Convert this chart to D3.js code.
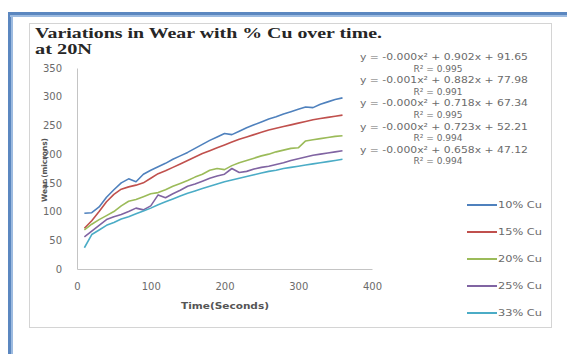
<!DOCTYPE html>
<html>
<head>
<meta charset="utf-8">
<script src="https://cdn.jsdelivr.net/npm/d3@7"></script>
<style>
  body { margin: 0; background: #fff; }
</style>
</head>
<body>
<script>
// =================== Data ======================
// time in seconds
const time = [10, 20, 30, 40, 50, 60, 70, 80, 90, 100,
              110, 120, 130, 140, 150, 160, 170, 180, 190, 200,
              210, 220, 230, 240, 250, 260, 270, 280, 290, 300,
              310, 320, 330, 340, 350, 360];

// wear (microns) for each % Cu
const wear10 = [97, 98, 108, 125, 138, 150, 157, 152, 165, 172,
                178, 184, 191, 197, 203, 210, 217, 224, 230, 236,
                234, 240, 246, 251, 256, 261, 265, 270, 274, 278,
                282, 281, 287, 291, 295, 298];
const wear15 = [71, 84, 100, 117, 130, 139, 143, 146, 150, 158,
                166, 171, 177, 183, 189, 195, 201, 206, 211, 216,
                221, 226, 230, 234, 238, 242, 245, 248, 251, 254,
                257, 260, 262, 264, 266, 268];
const wear20 = [68, 78, 86, 93, 100, 110, 118, 121, 126, 131,
                133, 138, 144, 149, 154, 160, 165, 172, 175, 173,
                180, 185, 189, 193, 197, 200, 204, 207, 210, 211,
                223, 225, 227, 229, 231, 232];
const wear25 = [56, 66, 76, 86, 91, 95, 100, 106, 103, 110,
                129, 124, 131, 137, 144, 148, 153, 158, 162, 165,
                175, 168, 170, 174, 177, 179, 182, 185, 189, 192,
                195, 198, 200, 202, 204, 206];
const wear33 = [37, 60, 68, 76, 81, 87, 91, 96, 101, 106,
                112, 117, 122, 127, 132, 136, 140, 144, 148, 152,
                155, 158, 161, 164, 167, 170, 172, 175, 177, 179,
                181, 183, 185, 187, 189, 191];

const seriesNames = ["10% Cu", "15% Cu", "20% Cu", "25% Cu", "33% Cu"];
const equations = ["y = -0.000x² + 0.902x + 91.65",
                   "y = -0.001x² + 0.882x + 77.98",
                   "y = -0.000x² + 0.718x + 67.34",
                   "y = -0.000x² + 0.723x + 52.21",
                   "y = -0.000x² + 0.658x + 47.12"];
const rSquared = ["R² = 0.995", "R² = 0.991", "R² = 0.995", "R² = 0.994", "R² = 0.994"];

const xTicks = [0, 100, 200, 300, 400];
const yTicks = [0, 50, 100, 150, 200, 250, 300, 350];

// =================== Chart Prep ======================
var colors = ["#4f81bd", "#c0504d", "#9bbb59", "#8064a2", "#4bacc6"];
var allSeries = [wear10, wear15, wear20, wear25, wear33];

var width = 567, height = 354;

var x = d3.scaleLinear().domain([0, 400]).range([77, 372]);
var y = d3.scaleLinear().domain([0, 350]).range([269, 68]);

var svg = d3.select("body").append("svg")
    .attr("width", width)
    .attr("height", height)
    .style("font-family", "'DejaVu Sans', sans-serif");

// outer blue frame (top and left edges)
svg.append("rect").attr("x", 8).attr("y", 12).attr("width", 559).attr("height", 5).attr("fill", "#5b87c0");
svg.append("rect").attr("x", 8).attr("y", 12).attr("width", 5).attr("height", 342).attr("fill", "#5b87c0");
svg.append("rect").attr("x", 10).attr("y", 15).attr("width", 557).attr("height", 2).attr("fill", "#9dbbe0");
svg.append("rect").attr("x", 11).attr("y", 15).attr("width", 2).attr("height", 339).attr("fill", "#9dbbe0");

// chart area border
svg.append("rect")
    .attr("x", 29.5).attr("y", 23.5)
    .attr("width", 522).attr("height", 304)
    .attr("fill", "#fff")
    .attr("stroke", "#d4d4d4");

// title
svg.append("text")
    .attr("x", 35).attr("y", 38)
    .attr("textLength", 347).attr("lengthAdjust", "spacingAndGlyphs")
    .style("font-family", "'Liberation Serif', serif")
    .style("font-weight", "bold")
    .style("font-size", "14px")
    .attr("fill", "#262626")
    .text("Variations in Wear with % Cu over time.");
svg.append("text")
    .attr("x", 35).attr("y", 54)
    .attr("textLength", 57).attr("lengthAdjust", "spacingAndGlyphs")
    .style("font-family", "'Liberation Serif', serif")
    .style("font-weight", "bold")
    .style("font-size", "14px")
    .attr("fill", "#262626")
    .text("at 20N");

// =================== Axes ======================
var xAxis = svg.append("g")
    .attr("transform", "translate(0," + y(0) + ")")
    .call(d3.axisBottom(x).tickValues(xTicks).tickSize(0).tickPadding(14));

var yAxis = svg.append("g")
    .attr("transform", "translate(" + x(0) + ",0)")
    .call(d3.axisLeft(y).tickValues(yTicks).tickSize(0).tickPadding(15));

[xAxis, yAxis].forEach(function(a) {
  a.select(".domain").attr("stroke", "#c4c4c4");
  a.selectAll("text")
      .attr("fill", "#6b6b6b")
      .style("font-size", "10px")
      .style("font-family", "'DejaVu Sans', sans-serif");
});

// axis titles
svg.append("text")
    .attr("x", 225).attr("y", 309)
    .attr("text-anchor", "middle")
    .attr("textLength", 88).attr("lengthAdjust", "spacingAndGlyphs")
    .style("font-weight", "bold").style("font-size", "8.5px")
    .attr("fill", "#555")
    .text("Time(Seconds)");

svg.append("text")
    .attr("transform", "translate(47,170) rotate(-90)")
    .attr("text-anchor", "middle")
    .attr("textLength", 64).attr("lengthAdjust", "spacingAndGlyphs")
    .style("font-weight", "bold").style("font-size", "7.5px")
    .attr("fill", "#555")
    .text("Wear (microns)");

// =================== Lines ======================
var line = d3.line()
    .x(function(d, i) { return x(time[i]); })
    .y(function(d) { return y(d); });

svg.selectAll(".series")
    .data(allSeries)
    .enter()
    .append("path")
    .attr("class", "series")
    .attr("fill", "none")
    .attr("stroke", function(d, i) { return colors[i]; })
    .attr("stroke-width", 1.6)
    .attr("stroke-linejoin", "round")
    .attr("d", line);

// =================== Trendline equations ======================
var eqG = svg.append("g")
    .attr("fill", "#6b6b6b")
    .style("font-size", "9px");

equations.forEach(function(eq, i) {
  eqG.append("text")
      .attr("x", 444).attr("y", 60 + i * 23.2)
      .attr("text-anchor", "middle")
      .attr("textLength", 168).attr("lengthAdjust", "spacingAndGlyphs")
      .text(eq);
  eqG.append("text")
      .attr("x", 438).attr("y", 71.6 + i * 23.2)
      .attr("text-anchor", "middle")
      .attr("textLength", 49).attr("lengthAdjust", "spacingAndGlyphs")
      .text(rSquared[i]);
});

// =================== Legend ======================
var legend = svg.selectAll(".legend")
    .data(seriesNames)
    .enter()
    .append("g")
    .attr("class", "legend")
    .attr("transform", function(d, i) { return "translate(467," + (205 + i * 27) + ")"; });

legend.append("line")
    .attr("x1", 0).attr("x2", 30)
    .attr("stroke", function(d, i) { return colors[i]; })
    .attr("stroke-width", 2);

legend.append("text")
    .attr("x", 31).attr("y", 3)
    .attr("textLength", 44).attr("lengthAdjust", "spacingAndGlyphs")
    .attr("fill", "#6b6b6b")
    .style("font-size", "8.5px")
    .text(function(d) { return d; });
</script>
</body>
</html>
